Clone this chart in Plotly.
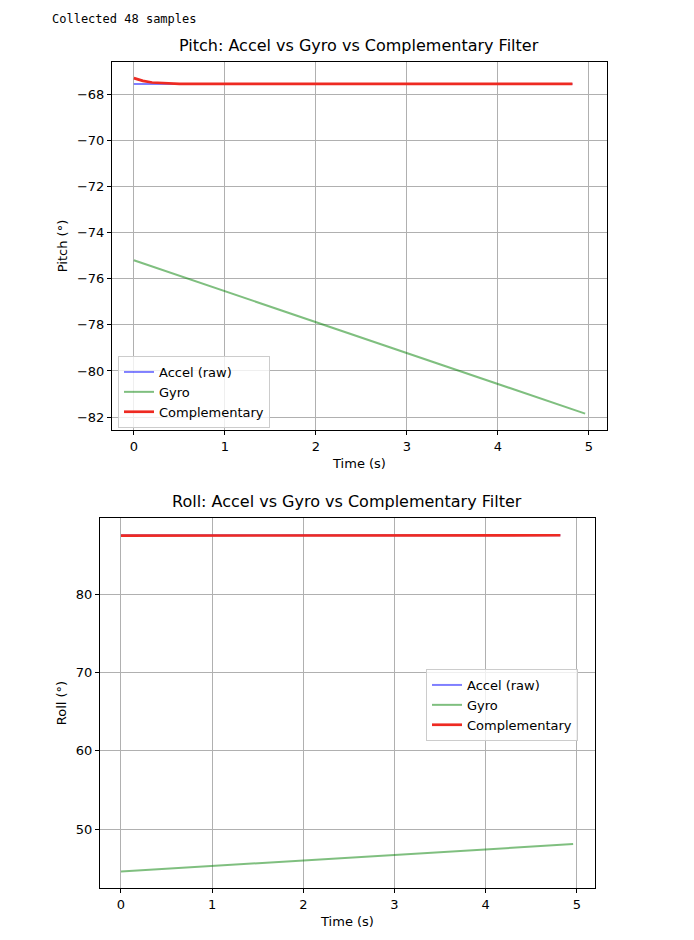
import plotly.graph_objects as go

# Pitch data
t_accel = [0.0, 4.82]
pitch_accel = [-67.55, -67.55]
t_gyro = [0.0, 4.96]
pitch_gyro = [-75.2, -81.85]
t_comp = [0.0, 0.1, 0.2, 0.3, 0.4, 0.5, 0.7, 1.0, 4.82]
pitch_comp = [-67.3, -67.42, -67.49, -67.52, -67.54, -67.55, -67.55, -67.55, -67.55]

# Roll data
roll_accel = [87.5, 87.5]
roll_gyro = [44.6, 48.1]
t_rcomp = [0.0, 4.82]
roll_comp = [87.45, 87.5]

BLUE = "rgba(0,0,255,0.5)"
GREEN = "rgba(0,128,0,0.5)"
RED = "#ee2a22"
FONT = "DejaVu Sans"

W, H, OFF = 678, 924, 8
def px(x): return (x - OFF) / W
def py(y): return 1 - (y - OFF) / H

fig = go.Figure()
def add(x, y, name, color, width, xa, ya, legend):
    fig.add_trace(go.Scatter(x=x, y=y, mode="lines", name=name,
                             line=dict(color=color, width=width),
                             xaxis=xa, yaxis=ya, legend=legend))

add(t_accel, pitch_accel, "Accel (raw)", BLUE, 2, "x", "y", "legend")
add(t_gyro, pitch_gyro, "Gyro", GREEN, 2, "x", "y", "legend")
add(t_comp, pitch_comp, "Complementary", RED, 2.7, "x", "y", "legend")
add(t_accel, roll_accel, "Accel (raw)", BLUE, 2, "x2", "y2", "legend2")
add(t_gyro, roll_gyro, "Gyro", GREEN, 2, "x2", "y2", "legend2")
add(t_rcomp, roll_comp, "Complementary", RED, 2.7, "x2", "y2", "legend2")

ax = dict(showline=True, mirror=True, linecolor="black", linewidth=1,
          showgrid=True, gridcolor="#b0b0b0", gridwidth=1, zeroline=False,
          ticks="outside", ticklen=4, tickcolor="black",
          tickfont=dict(family=FONT, size=13, color="black"))
def title(t):
    return dict(text=t, font=dict(family=FONT, size=13, color="black"), standoff=6)

leg = dict(bgcolor="rgba(255,255,255,0.8)", bordercolor="#cccccc", borderwidth=1,
           font=dict(family=FONT, size=13, color="black"), xref="paper", yref="paper")

fig.update_layout(
    width=W, height=H, margin=dict(l=0, r=0, t=0, b=0),
    paper_bgcolor="white", plot_bgcolor="white", font=dict(family=FONT),
    xaxis=dict(ax, domain=[px(112), px(607)], range=[-0.24, 5.2], dtick=1,
               anchor="y", title=title("Time (s)")),
    yaxis=dict(ax, domain=[py(430), py(62)], range=[-82.56, -66.6], dtick=2,
               tickformat="d", anchor="x", title=title("Pitch (°)")),
    xaxis2=dict(ax, domain=[px(100), px(595)], range=[-0.23, 5.2], dtick=1,
                anchor="y2", title=title("Time (s)")),
    yaxis2=dict(ax, domain=[py(888), py(518)], range=[42.5, 89.7], dtick=10,
                anchor="x2", title=title("Roll (°)")),
    legend=dict(leg, x=px(118), y=py(356), xanchor="left", yanchor="top"),
    legend2=dict(leg, x=px(426), y=py(669), xanchor="left", yanchor="top"),
    annotations=[
        dict(text="Collected 48 samples", x=px(50), y=py(19), xref="paper", yref="paper",
             xanchor="left", yanchor="middle", showarrow=False,
             font=dict(family="DejaVu Sans Mono", size=12, color="black")),
        dict(text="Pitch: Accel vs Gyro vs Complementary Filter", x=px(359), y=py(57),
             xref="paper", yref="paper", showarrow=False, yanchor="bottom",
             font=dict(family=FONT, size=16, color="black")),
        dict(text="Roll: Accel vs Gyro vs Complementary Filter", x=px(347), y=py(513),
             xref="paper", yref="paper", showarrow=False, yanchor="bottom",
             font=dict(family=FONT, size=16, color="black")),
    ],
    shapes=[dict(type="rect", xref="paper", yref="paper", x0=px(42), x1=1.01, y0=py(6), y1=1.01,
                 line=dict(color="#e0e0e0", width=1), fillcolor="#f7f7f7")],
)
fig.write_html("out.html")
